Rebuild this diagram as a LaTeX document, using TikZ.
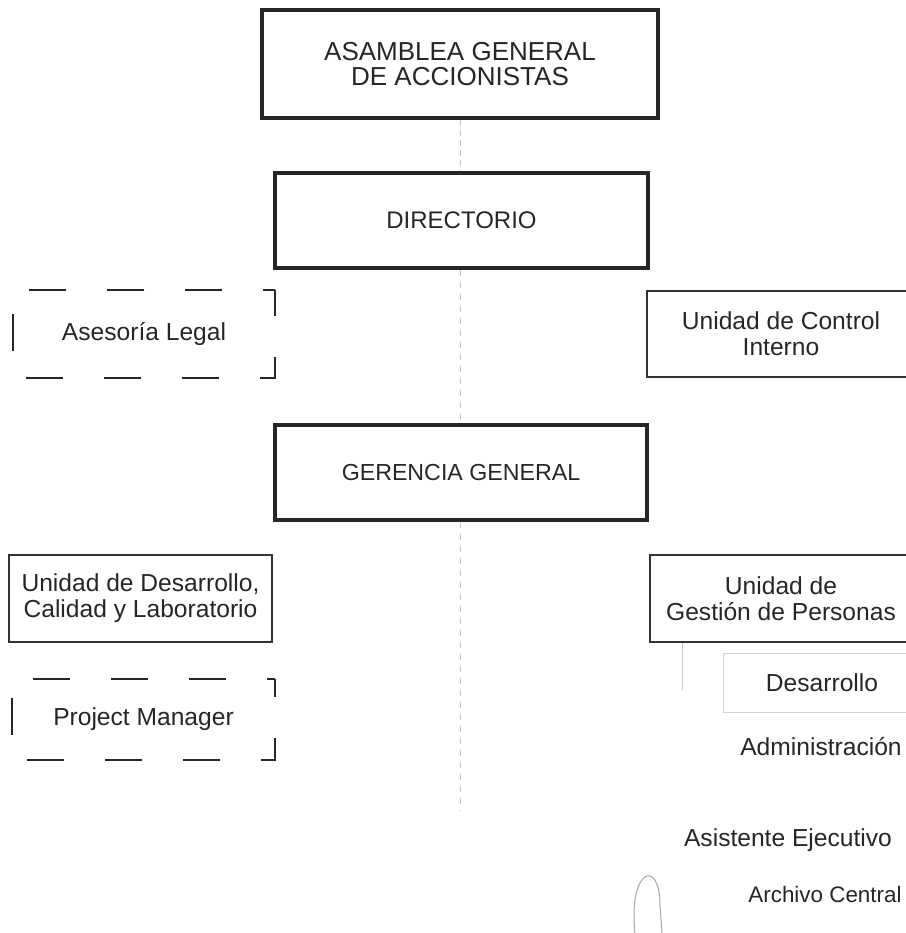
\documentclass[tikz,border=0pt]{standalone}
\usepackage{fontspec}
\setmainfont{Liberation Sans}
\usetikzlibrary{positioning}
\tikzset{font=\fontsize{12.3}{13}\selectfont}
\tikzset{every node/.append style={text=black!85}}
\tikzset{mainbox/.style={draw=black!85,line width=1.7pt,inner sep=0pt,align=center}}
\tikzset{unitbox/.style={draw=black!80,line width=0.9pt,inner sep=0pt,align=center}}
\tikzset{advbox/.style={inner sep=0pt,align=center}}
\tikzset{advline/.style={black!85,line width=1pt,dash pattern=on 18.5pt off 20.5pt}}
\tikzset{ghost/.style={gray!45,line width=0.5pt}}

\begin{document}
\begin{tikzpicture}[x=0.5pt,y=-0.5pt]
  \useasboundingbox (0,0) rectangle (906,933);
  \node[mainbox,minimum width=198pt,minimum height=54pt,font=\fontsize{13}{12.5}\selectfont]
    (asamblea) at (460,64) {ASAMBLEA GENERAL\\DE ACCIONISTAS};
  \node[mainbox,minimum width=186.5pt,minimum height=47.5pt,font=\fontsize{12}{13}\selectfont]
    (directorio) at (461.5,220.5) {DIRECTORIO};
  \node[mainbox,minimum width=186pt,minimum height=47.5pt,font=\fontsize{11.6}{13}\selectfont]
    (gerencia) at (461,472.5) {GERENCIA GENERAL};
  \node[advbox,minimum width=131pt,minimum height=44pt] (asesoria) at (144,334) {Asesoría Legal};
  \node[unitbox,minimum width=134pt,minimum height=43pt] (control) at (781,334) {Unidad de Control\\Interno};
  \node[unitbox,minimum width=131.5pt,minimum height=43.5pt] (calidad) at (140.5,598.5)
    {Unidad de Desarrollo,\\Calidad y Laboratorio};
  \node[unitbox,minimum width=131pt,minimum height=43.5pt] (gestion) at (781,598.5)
    {Unidad de\\Gestión de Personas};
  \node[advbox,minimum width=131.5pt,minimum height=40.5pt] (pm) at (143.5,719.5) {Project Manager};
  \node[draw=gray!35,line width=0.5pt,minimum width=99pt,minimum height=29.5pt] (desarrollo)
    at (822,682.5) {Desarrollo};
  \node (administracion) at (821,747) {Administración};
  \node (asistente) at (788,840) {Asistente Ejecutivo};
  \node[font=\fontsize{11.2}{13}\selectfont] (archivo) at (825,894) {Archivo Central};

  \foreach \n/\ph in {asesoria/12.5pt,pm/14.5pt}
  \draw[advline,dash phase=\ph] (\n.north east) -- (\n.north west) -- (\n.south west)
    -- (\n.south east) -- cycle;

  \coordinate (axisend) at (460,810);
  \coordinate (gestionend) at (682,690);
  \draw[ghost,densely dashed] (asamblea.south) -- (asamblea.south |- directorio.north);
  \draw[ghost,dashed] (asamblea.south |- directorio.south) -- (asamblea.south |- gerencia.north);
  \draw[ghost,dashed] (asamblea.south |- gerencia.south) -- (axisend);
  \draw[ghost] (gestionend |- gestion.south) -- (gestionend);

  \draw[gray!70,line width=0.5pt] (635,933) .. controls (628,868) and (660,858) .. (660,905) -- (662,933);
\end{tikzpicture}
\end{document}
